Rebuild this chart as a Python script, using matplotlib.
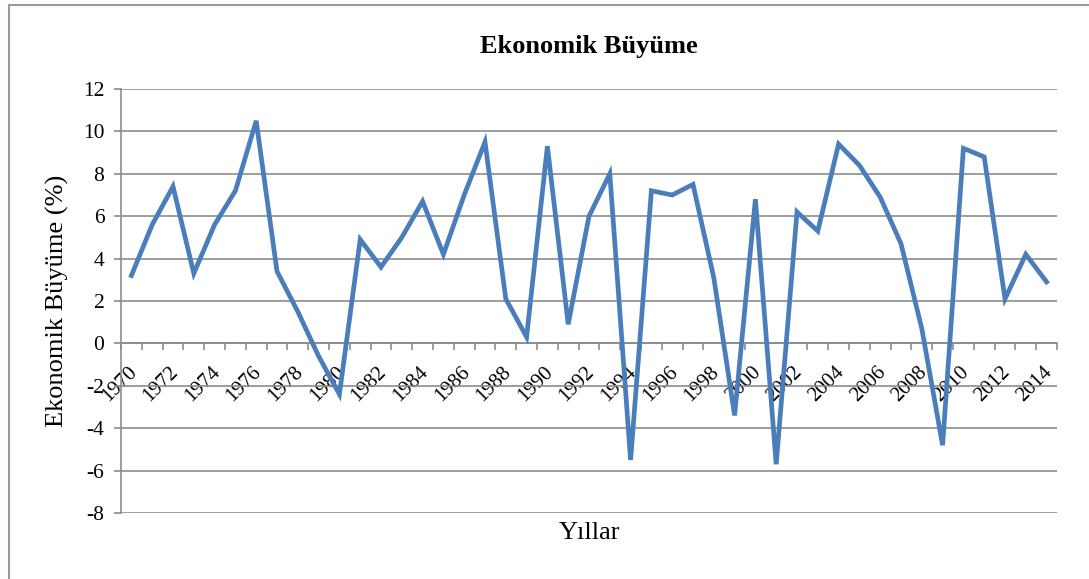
import matplotlib
matplotlib.use("Agg")
import matplotlib.pyplot as plt
import matplotlib.transforms as mtransforms
from matplotlib.lines import Line2D
import numpy as np

years = list(range(1970, 2015))
growth = [3.2, 5.6, 7.4, 3.3, 5.6, 7.2, 10.5, 3.4, 1.5, -0.6,
          -2.4, 4.9, 3.6, 5.0, 6.7, 4.2, 7.0, 9.5, 2.1, 0.3,
          9.3, 0.9, 6.0, 8.0, -5.5, 7.2, 7.0, 7.5, 3.1, -3.4,
          6.8, -5.7, 6.2, 5.3, 9.4, 8.4, 6.9, 4.7, 0.7, -4.8,
          9.2, 8.8, 2.1, 4.2, 2.9]
y_ticks = list(range(-8, 13, 2))

plt.rcParams['font.family'] = ['Liberation Serif', 'DejaVu Serif']

fig = plt.figure(figsize=(10.89, 5.79), dpi=100)
ax = fig.add_axes([121/1089, 1 - 513/579, (1057-121)/1089, (513-89)/579])

grid_col = '#8c8c8c'
x = np.arange(len(years))
ax.plot(x, growth, color='#4a7ebb', lw=3.4, solid_joinstyle='miter', zorder=3)

ax.set_xlim(-0.5, len(years) - 0.5)
ax.set_ylim(-8, 12)
ax.set_yticks(y_ticks)
ax.set_yticklabels([str(v) for v in y_ticks], fontsize=15.5)
ax.yaxis.grid(True, color=grid_col, lw=1.2)
ax.set_axisbelow(True)

for s in ['top', 'right']:
    ax.spines[s].set_visible(False)
ax.spines['left'].set_color(grid_col)
ax.spines['left'].set_linewidth(1.2)
ax.spines['bottom'].set_position(('data', 0))
ax.spines['bottom'].set_color(grid_col)
ax.spines['bottom'].set_linewidth(1.2)

ax.tick_params(axis='y', color=grid_col, width=1.2, length=5, pad=7)
ax.set_xticks(x[::2])
ax.set_xticklabels([str(y) for y in years[::2]], fontsize=15,
                   rotation=45, ha='right', va='top', rotation_mode='anchor')
ax.set_xticks(np.arange(-0.5, len(years)), minor=True)
ax.tick_params(axis='x', which='major', length=0, pad=14)
ax.tick_params(axis='x', which='minor', color=grid_col, width=1.2, length=5)
shift = mtransforms.ScaledTranslation(-4/100, 0, fig.dpi_scale_trans)
for lbl in ax.get_xticklabels():
    lbl.set_transform(lbl.get_transform() + shift)

ax.set_title('Ekonomik Büyüme', fontsize=19, fontweight='bold', pad=26)
ax.set_ylabel('Ekonomik Büyüme (%)', fontsize=19, labelpad=10)
fig.text(590/1089, 1 - 533/579, 'Yıllar', fontsize=19, ha='center', va='center')

# chart frame
fig.add_artist(Line2D([9/1089, 1], [1 - 5/579] * 2, color='#9a9a9a', lw=1.5))
fig.add_artist(Line2D([9/1089] * 2, [0, 1 - 5/579], color='#9a9a9a', lw=1.5))

fig.savefig('out.png', dpi=100)
